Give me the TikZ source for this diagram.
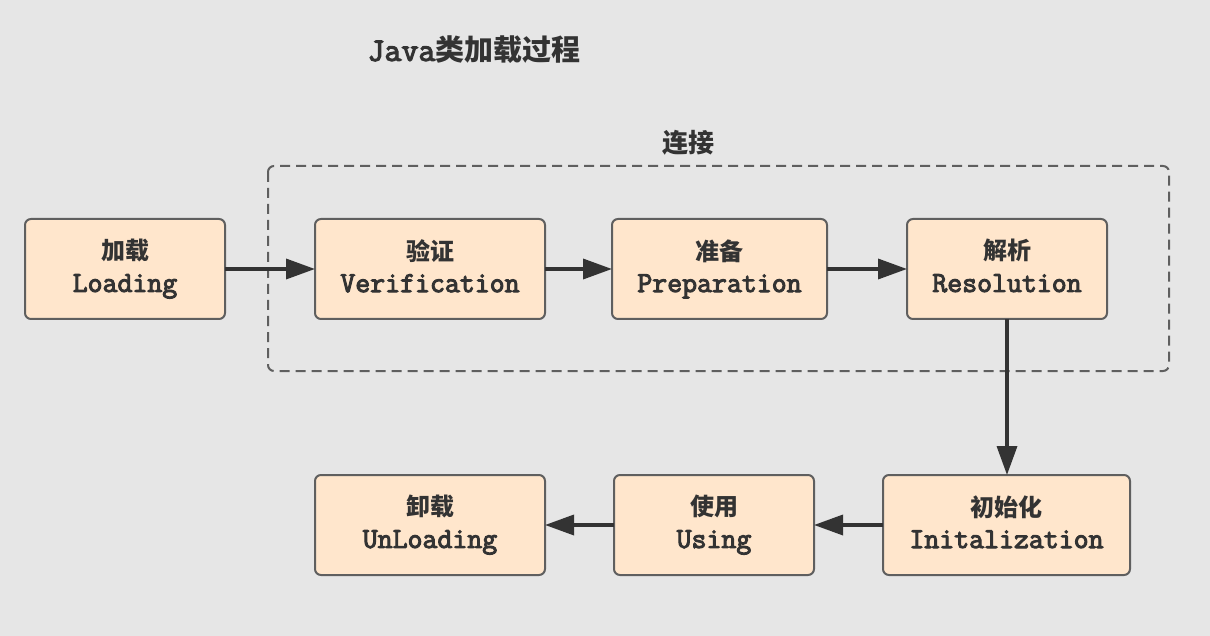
\documentclass[tikz,border=0pt]{standalone}
\usepackage{fontspec}
\newfontfamily\cjk{Noto Sans CJK SC}
\newfontfamily\mono{Latin Modern Mono}[FakeBold=3.5]
\usetikzlibrary{arrows.meta}
\definecolor{bg}{HTML}{E6E6E6}
\definecolor{boxfill}{HTML}{FFE6CC}
\definecolor{boxline}{HTML}{5F5F5F}
\definecolor{ink}{HTML}{333333}
\newcommand{\twoline}[2]{{\cjk\fontsize{24}{32}\selectfont\bfseries #1\vphantom{加}}\\{\mono\fontsize{29}{32}\selectfont #2\vphantom{Lg}}}
\tikzset{
  stagebox/.style={draw=boxline, fill=boxfill, line width=2pt, rounded corners=6pt,
    minimum height=100pt, inner sep=0pt, outer sep=0pt, align=center, text=ink,
    font=\fontsize{24}{32}\selectfont},
  flow/.style={draw=ink, line width=3.5pt, -{Triangle[length=29pt,width=20pt]}},
  group/.style={draw=boxline, line width=2pt, dash pattern=on 10pt off 6pt, rounded corners=6pt},
}
\begin{document}
\begin{tikzpicture}[x=1pt,y=-1pt]
\fill[bg] (0,0) rectangle (1210,636);
\useasboundingbox (0,0) rectangle (1210,636);
\node[text=ink, inner sep=0pt] (title) at (474,50) {{\mono\fontsize{33}{34}\selectfont Java}{\cjk\fontsize{29}{34}\selectfont\bfseries 类加载过程}};
\node[text=ink, inner sep=0pt] (link) at (688,143) {\cjk\fontsize{26}{30}\selectfont\bfseries 连接};
\draw[group] (268,166) rectangle (1169,371);
\node[stagebox, minimum width=200pt] (load) at (125,269) {\twoline{加载}{Loading}};
\node[stagebox, minimum width=230pt] (verif) at (430,269) {\twoline{验证}{Verification}};
\node[stagebox, minimum width=215pt] (prep) at (719.5,269) {\twoline{准备}{Preparation}};
\node[stagebox, minimum width=200pt] (resol) at (1007,269) {\twoline{解析}{Resolution}};
\node[stagebox, minimum width=247pt] (init) at (1006.5,525) {\twoline{初始化}{Initalization}};
\node[stagebox, minimum width=200pt] (using) at (714,525) {\twoline{使用}{Using}};
\node[stagebox, minimum width=230pt] (unload) at (430,525) {\twoline{卸载}{UnLoading}};
\draw[flow] (load.east) -- (verif.west);
\draw[flow] (verif.east) -- (prep.west);
\draw[flow] (prep.east) -- (resol.west);
\draw[flow] (resol.south) -- (resol.south |- init.north);
\draw[flow] (init.west) -- (using.east);
\draw[flow] (using.west) -- (unload.east);
\end{tikzpicture}
\end{document}
